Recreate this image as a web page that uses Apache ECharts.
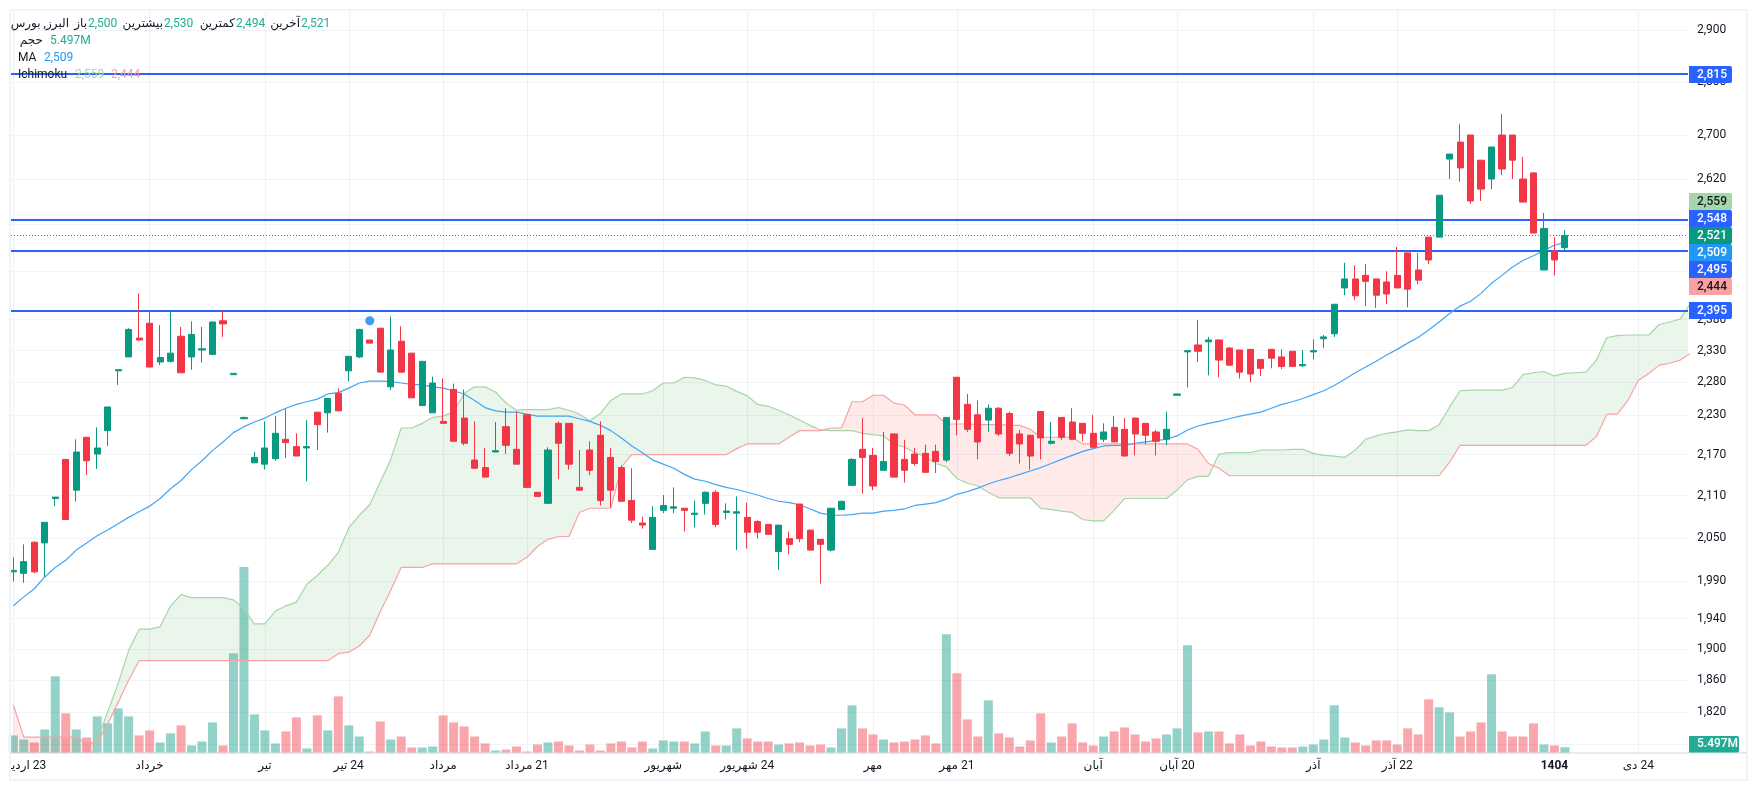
<!DOCTYPE html>
<html>
<head>
<meta charset="utf-8">
<title>Chart</title>
<style>
  html, body { margin: 0; padding: 0; background: #fff; }
  #chart { width: 1757px; height: 790px; }
</style>
<script src="https://cdn.jsdelivr.net/npm/echarts@6/dist/echarts.min.js"></script>
</head>
<body>
<div id="chart"></div>
<script>
// daily candles, one value per bar
const opens = [
  2003,2001,2044,2043,2106,2163,2118,2196,2171,2206,
  2298,2320,2350,2374,2312,2313,2353,2320,2331,2324,
  2378,2292,2224,2158,2156,2164,2193,2182,2180,2234,
  2233,2263,2298,2320,2347,2366,2273,2345,2326,2244,
  2233,2220,2269,2225,2162,2151,2174,2212,2178,2230,
  2115,2099,2217,2217,2122,2177,2199,2166,2151,2103,
  2071,2034,2089,2092,2092,2083,2099,2115,2086,2085,
  2079,2073,2069,2031,2049,2098,2061,2048,2033,2090,
  2125,2178,2169,2147,2201,2163,2171,2172,2175,2162,
  2288,2246,2230,2222,2240,2232,2201,2199,2235,2187,
  2226,2219,2217,2202,2193,2211,2208,2225,2217,2204,
  2193,2260,2328,2339,2344,2347,2334,2331,2332,2316,
  2332,2320,2329,2306,2328,2349,2357,2432,2447,2453,
  2447,2442,2453,2491,2462,2518,2518,2656,2687,2700,
  2654,2620,2700,2700,2620,2631,2462,2494,2500
];
const closes = [
  2005,2017,2003,2072,2108,2076,2174,2161,2180,2242,
  2300,2364,2347,2304,2319,2326,2295,2356,2333,2376,
  2373,2294,2226,2166,2180,2202,2188,2168,2182,2215,
  2255,2236,2321,2364,2342,2296,2331,2296,2256,2313,
  2279,2217,2190,2187,2150,2137,2176,2184,2156,2122,
  2109,2177,2187,2156,2118,2147,2103,2118,2102,2075,
  2068,2079,2096,2094,2089,2085,2115,2069,2088,2087,
  2058,2058,2055,2068,2041,2049,2033,2041,2092,2102,
  2163,2166,2124,2160,2137,2147,2157,2144,2160,2226,
  2223,2208,2189,2240,2201,2172,2186,2168,2195,2190,
  2196,2193,2202,2181,2204,2189,2168,2201,2199,2190,
  2208,2262,2330,2329,2347,2315,2307,2296,2293,2302,
  2318,2305,2305,2308,2330,2352,2405,2447,2419,2443,
  2420,2422,2432,2430,2445,2479,2591,2665,2640,2581,
  2602,2678,2638,2654,2579,2525,2533,2479,2521
];
const highs = [
  2023,2041,2045,2072,2108,2163,2193,2196,2211,2242,
  2300,2366,2423,2395,2371,2395,2368,2377,2368,2377,
  2395,2294,2227,2174,2220,2228,2239,2202,2222,2234,
  2255,2271,2321,2365,2347,2366,2385,2369,2326,2313,
  2289,2286,2278,2269,2220,2180,2219,2240,2235,2230,
  2115,2181,2220,2217,2177,2190,2220,2180,2154,2150,
  2080,2095,2111,2122,2092,2103,2116,2118,2099,2109,
  2100,2075,2069,2068,2059,2098,2061,2048,2092,2102,
  2165,2225,2180,2204,2201,2192,2180,2185,2185,2226,
  2288,2262,2252,2246,2242,2235,2207,2199,2235,2219,
  2226,2240,2217,2230,2217,2228,2225,2226,2217,2207,
  2235,2262,2331,2379,2352,2348,2336,2331,2332,2316,
  2332,2332,2329,2331,2348,2355,2405,2474,2470,2472,
  2447,2460,2501,2491,2491,2518,2591,2665,2720,2700,
  2654,2678,2739,2700,2660,2631,2560,2518,2530
];
const lows = [
  1990,1988,2001,1996,2095,2075,2102,2140,2149,2183,
  2276,2320,2346,2304,2307,2311,2295,2300,2311,2324,
  2352,2292,2223,2158,2148,2161,2165,2168,2131,2177,
  2203,2236,2282,2318,2342,2296,2268,2296,2256,2244,
  2233,2217,2190,2184,2150,2137,2174,2171,2156,2122,
  2109,2099,2134,2148,2118,2140,2096,2093,2102,2071,
  2063,2034,2085,2085,2059,2065,2083,2065,2076,2033,
  2035,2049,2055,2006,2027,2044,2033,1987,2031,2090,
  2125,2113,2118,2147,2137,2129,2154,2144,2143,2159,
  2199,2204,2163,2204,2198,2168,2157,2148,2163,2185,
  2192,2192,2190,2181,2189,2189,2168,2169,2185,2169,
  2184,2260,2272,2312,2291,2288,2307,2286,2280,2290,
  2302,2301,2304,2304,2316,2334,2352,2420,2412,2402,
  2399,2405,2432,2400,2438,2472,2518,2620,2615,2576,
  2581,2602,2627,2620,2579,2525,2462,2453,2494
];
// volume in millions
const volumes = [
  17.7,13.5,10.4,23.9,79.0,40.6,23.9,15.6,37.4,30.2,
  45.8,37.4,17.7,22.9,10.4,19.8,28.1,7.3,11.4,31.2,
  7.3,103,192.4,39.5,22.9,9.4,21.8,36.4,4.2,38.5,
  22.9,58.2,28.1,16.6,1.0,32.2,13.5,16.6,5.2,5.2,
  6.2,38.5,31.2,27.0,16.6,9.4,2.1,3.1,6.2,1.0,
  8.3,10.4,11.4,7.3,2.1,8.3,2.1,9.4,11.4,5.2,
  11.4,4.2,12.5,11.4,11.4,9.4,21.8,7.3,7.3,25.0,
  14.6,11.4,11.4,8.3,9.4,10.4,7.3,8.3,5.2,25.0,
  48.9,25.0,18.7,13.5,10.4,11.4,13.5,17.7,9.4,122.7,
  82.2,34.3,16.6,54.1,19.8,15.6,6.2,12.5,40.6,10.4,
  16.6,30.2,10.4,7.3,16.6,21.8,26.0,18.7,11.4,14.6,
  18.7,25.0,111.3,20.8,21.8,21.8,9.4,18.7,7.3,11.4,
  6.2,5.2,5.2,6.2,8.3,13.5,48.9,15.6,10.4,7.3,
  12.5,12.5,8.3,25.0,18.7,55.1,46.8,41.6,16.6,21.8,
  31.2,81.1,21.8,16.6,16.6,30.2,8.3,7.3,5.497
];
const maValues = [
  1957,1969,1980,1996,2009,2019,2033,2043,2053,2061,
  2070,2079,2087,2095,2106,2120,2132,2148,2161,2176,
  2189,2203,2212,2219,2225,2233,2240,2246,2250,2254,
  2262,2264,2271,2279,2282,2282,2281,2279,2277,2276,
  2273,2271,2267,2262,2252,2241,2236,2234,2234,2231,
  2228,2228,2228,2228,2224,2220,2214,2206,2195,2183,
  2173,2162,2156,2150,2141,2134,2131,2126,2122,2119,
  2115,2111,2106,2102,2100,2097,2091,2085,2082,2082,
  2083,2085,2085,2088,2089,2091,2096,2098,2100,2105,
  2112,2116,2121,2127,2132,2136,2141,2146,2151,2157,
  2163,2169,2175,2179,2183,2184,2184,2187,2189,2191,
  2193,2198,2207,2213,2217,2220,2224,2228,2231,2234,
  2240,2246,2250,2255,2261,2267,2275,2285,2295,2304,
  2313,2323,2332,2342,2351,2363,2376,2390,2402,2410,
  2423,2440,2453,2467,2478,2486,2495,2504,2509
];
// the cloud runs on past the last candle
const spanA = [
  1745,1745,1745,1745,1745,1745,1745,1754,1785,1820,
  1856,1898,1926,1926,1929,1957,1972,1968,1968,1968,
  1968,1965,1953,1933,1933,1950,1957,1962,1986,1998,
  2012,2030,2064,2082,2097,2130,2163,2210,2210,2217,
  2226,2228,2234,2263,2273,2273,2265,2248,2237,2238,
  2238,2238,2241,2237,2231,2221,2232,2252,2262,2262,
  2262,2267,2279,2279,2288,2287,2283,2276,2274,2266,
  2259,2246,2243,2237,2230,2222,2214,2207,2206,2206,
  2206,2202,2200,2198,2186,2181,2173,2167,2157,2152,
  2135,2128,2124,2115,2107,2107,2107,2107,2092,2090,
  2088,2086,2076,2074,2074,2089,2106,2106,2106,2106,
  2106,2118,2133,2138,2138,2171,2173,2173,2173,2177,
  2177,2177,2178,2178,2172,2169,2168,2166,2177,2193,
  2198,2202,2204,2207,2206,2206,2215,2242,2267,2268,
  2268,2268,2268,2272,2292,2295,2297,2290,2294,2295,
  2296,2315,2351,2354,2355,2355,2355,2372,2376,2381,2407
];
const spanB = [
  1829,1789,1789,1789,1789,1789,1789,1782,1782,1805,
  1832,1860,1885,1885,1885,1885,1885,1885,1885,1885,
  1885,1885,1885,1885,1885,1885,1885,1885,1885,1885,
  1885,1894,1896,1904,1918,1949,1978,2009,2009,2009,
  2014,2014,2014,2014,2014,2014,2014,2014,2014,2023,
  2038,2048,2052,2052,2086,2092,2092,2092,2152,2170,
  2170,2170,2170,2170,2170,2170,2170,2170,2170,2179,
  2186,2186,2186,2186,2196,2206,2206,2206,2210,2210,
  2250,2250,2260,2260,2248,2245,2230,2230,2230,2216,
  2216,2216,2215,2215,2215,2214,2214,2208,2196,2196,
  2196,2196,2186,2186,2186,2186,2186,2186,2186,2186,
  2186,2186,2186,2178,2157,2150,2139,2139,2139,2139,
  2139,2139,2139,2139,2139,2139,2139,2139,2139,2139,
  2139,2139,2139,2139,2139,2139,2139,2159,2184,2184,
  2184,2184,2184,2184,2184,2184,2184,2184,2184,2184,
  2184,2197,2231,2231,2252,2283,2294,2307,2310,2315,2326
];

const priceTicks = [2900,2800,2700,2620,2540,2460,2380,2330,2280,2230,2170,2110,2050,1990,1940,1900,1860,1820,1780];
const levels = [2815,2548,2495,2395];
const lastPrice = 2521;
const signalBar = 34;
const signalPrice = 2378;

const timeTicks = [0,13,24,32,41,49,62,70,82,90,103,111,124,132,147,155];
const timeLabels = ['23 اردیبهشت','خرداد','تیر','24 تیر','مرداد','21 مرداد','شهریور','24 شهریور','مهر','21 مهر','آبان','20 آبان','آذر','22 آذر','1404','24 دی'];

const UP = '#089981';
const DOWN = '#F23645';
const BLUE = '#2962ff';
const FONT = 'Roboto, "Noto Sans", "DejaVu Sans", sans-serif';

// prices are drawn on a log scale, so the y axis works in ln(price)
const lp = v => Math.log(v);

const candleData = opens.map((o, i) => [i, lp(o), lp(closes[i]), lp(lows[i]), lp(highs[i])]);
const volumeData = volumes.map((v, i) => ({
  value: [i, v],
  itemStyle: { color: closes[i] >= opens[i] ? 'rgba(8,153,129,0.44)' : 'rgba(242,54,69,0.44)' }
}));

// split the cloud into polygons where the two spans cross
function cloudRuns() {
  const runs = [];
  let run = { up: spanA[0] >= spanB[0], a: [[0, lp(spanA[0])]], b: [[0, lp(spanB[0])]] };
  for (let i = 1; i < spanA.length; i++) {
    const a0 = lp(spanA[i - 1]), b0 = lp(spanB[i - 1]);
    const a1 = lp(spanA[i]), b1 = lp(spanB[i]);
    const up = a1 >= b1;
    if (up !== run.up) {
      const t = (b0 - a0) / ((a1 - a0) - (b1 - b0));
      const cross = [i - 1 + t, a0 + (a1 - a0) * t];
      run.a.push(cross);
      runs.push(run);
      run = { up: up, a: [cross], b: [] };
    }
    run.a.push([i, a1]);
    run.b.push([i, b1]);
  }
  runs.push(run);
  return runs;
}
const runs = cloudRuns();

function renderCloud(params, api) {
  const children = runs.map(r => ({
    type: 'polygon',
    shape: { points: r.a.concat(r.b.slice().reverse()).map(p => api.coord(p)) },
    style: { fill: r.up ? 'rgba(67,160,71,0.11)' : 'rgba(244,67,54,0.11)' },
    silent: true
  }));
  return { type: 'group', children: children };
}

// text and tags ------------------------------------------------------
function txt(x, y, text, color, align, extra) {
  return {
    type: 'text', z: 100, silent: true,
    style: Object.assign({
      x: x, y: y, text: text, fill: color,
      align: align || 'left', verticalAlign: 'middle',
      font: '12px ' + FONT
    }, extra || {})
  };
}
function tag(top, text, bg, color, h, w) {
  const height = h || 17;
  return [
    { type: 'rect', z: 90, silent: true, shape: { x: 1689, y: top, width: w || 43, height: height, r: [0, 2, 2, 0] }, style: { fill: bg } },
    txt(1697, top + height / 2, text, color, 'left', { font: '500 12px ' + FONT, z: 91 })
  ];
}

const DARK = '#131722';
const VAL = '#22ab94';

const graphics = [
  { type: 'rect', z: 80, silent: true, shape: { x: 0, y: 754, width: 10, height: 25 }, style: { fill: '#fff' } },
  { type: 'rect', z: 81, silent: true, shape: { x: 10, y: 10, width: 1737, height: 770 }, style: { fill: 'none', stroke: '#f0f3fa', lineWidth: 2 } },
  { type: 'rect', z: 82, silent: true, shape: { x: 1688, y: 752, width: 59, height: 1.5 }, style: { fill: '#e0e3eb' } },

  txt(69, 24, 'البرز, بورس', DARK, 'right'),
  txt(87, 24, 'باز', DARK, 'right'),
  txt(88, 24, '2,500', VAL),
  txt(163, 24, 'بیشترین', DARK, 'right'),
  txt(164, 24, '2,530', VAL),
  txt(235, 24, 'کمترین', DARK, 'right'),
  txt(236, 24, '2,494', VAL),
  txt(300, 24, 'آخرین', DARK, 'right'),
  txt(301, 24, '2,521', VAL),
  txt(43, 41, 'حجم', DARK, 'right'),
  txt(50, 41, '5.497M', VAL),
  txt(18, 58, 'MA', DARK),
  txt(44, 58, '2,509', '#2196f3'),
  txt(18, 75, 'Ichimoku', DARK),
  txt(75, 75, '2,559', '#a5d6a7'),
  txt(111, 75, '2,444', '#faa1a4')
].concat(
  tag(66, '2,815', BLUE, '#fff'),
  tag(193, '2,559', '#a5d6a7', DARK),
  tag(210, '2,548', BLUE, '#fff'),
  tag(227, '2,521', UP, '#fff'),
  tag(244, '2,509', '#2196f3', '#fff'),
  tag(261, '2,495', BLUE, '#fff'),
  tag(278, '2,444', '#faa1a4', DARK),
  tag(302, '2,395', BLUE, '#fff'),
  tag(736, '5.497M', '#22ab94', '#fff', 16.5, 50)
);

var dom = document.getElementById('chart');
var myChart = echarts.init(dom, null, { renderer: 'canvas' });

var option = {
  animation: false,
  backgroundColor: '#fff',
  textStyle: { fontFamily: FONT },
  // outerBoundsMode none: the clipped first time label must not push the grid
  grid: { left: 11, right: 69, top: 11, bottom: 37.5, containLabel: false, outerBoundsMode: 'none' },
  xAxis: {
    type: 'value',
    min: -0.22,
    max: 159.74,
    axisLine: { onZero: false, lineStyle: { color: '#e0e3eb', width: 1.5 } },
    axisTick: { show: false, customValues: timeTicks },
    splitLine: { show: true, lineStyle: { color: '#f0f1f4', width: 1 } },
    axisLabel: {
      customValues: timeTicks,
      color: DARK,
      fontSize: 12,
      fontFamily: FONT,
      margin: 7,
      hideOverlap: false,
      showMinLabel: true,
      showMaxLabel: true,
      formatter: function (v) {
        const label = timeLabels[timeTicks.indexOf(v)];
        if (label === '1404') return '{b|1404}';
        return '\u200F' + label;
      },
      rich: { b: { fontWeight: 'bold', fontSize: 12, color: DARK, fontFamily: FONT } }
    }
  },
  yAxis: [
    {
      type: 'value',
      position: 'right',
      min: lp(1770.3),
      max: lp(2938.9),
      axisLine: { show: false },
      axisTick: { show: false, customValues: priceTicks.map(lp) },
      splitLine: { show: true, lineStyle: { color: '#f2f3f6', width: 1 } },
      axisLabel: {
        customValues: priceTicks.map(lp),
        color: '#131722',
        fontSize: 12,
        fontFamily: FONT,
        margin: 9,
        hideOverlap: false,
        formatter: v => Math.round(Math.exp(v)).toLocaleString('en-US')
      }
    },
    { type: 'value', min: 0, max: 769, show: false, splitLine: { show: false } }
  ],
  series: [
    {
      name: 'volume', type: 'bar', yAxisIndex: 1, z: 1,
      barWidth: 9, silent: true, data: volumeData
    },
    {
      name: 'cloud', type: 'custom', z: 2, clip: true, silent: true,
      renderItem: renderCloud,
      encode: { x: 0, y: 1 },
      data: [[0, lp(spanA[0])]]
    },
    {
      name: 'spanA', type: 'line', z: 3, showSymbol: false, silent: true,
      lineStyle: { color: '#a5d6a7', width: 1.2 },
      data: spanA.map((v, i) => [i, lp(v)])
    },
    {
      name: 'spanB', type: 'line', z: 3, showSymbol: false, silent: true,
      lineStyle: { color: '#faa1a4', width: 1.2 },
      data: spanB.map((v, i) => [i, lp(v)])
    },
    {
      name: 'levels', type: 'line', z: 4, silent: true, data: [],
      markLine: {
        silent: true, symbol: 'none', animation: false,
        precision: 6, // default of 2 decimals moves the lines in ln space
        label: { show: false },
        data: levels.map(v => ({ yAxis: lp(v), lineStyle: { color: BLUE, width: 2, type: 'solid' } }))
          .concat([{ yAxis: lp(lastPrice), lineStyle: { color: UP, width: 1, type: [1, 2] } }])
      }
    },
    {
      name: 'MA', type: 'line', z: 5, showSymbol: false, silent: true,
      lineStyle: { color: '#42a5f5', width: 1.2 },
      data: maValues.map((v, i) => [i, lp(v)])
    },
    {
      name: 'candles', type: 'candlestick', z: 6, silent: true,
      barWidth: 6.6,
      encode: { x: 0, y: [1, 2, 3, 4] },
      itemStyle: { color: UP, color0: DOWN, borderColor: UP, borderColor0: DOWN, borderWidth: 1 },
      data: candleData
    },
    {
      name: 'signal', type: 'scatter', z: 7, silent: true, symbolSize: 9,
      itemStyle: { color: '#0a84f0' },
      data: [[signalBar, lp(signalPrice)]]
    }
  ],
  graphic: graphics
};

if (option && typeof option === 'object') {
  myChart.setOption(option);
}
window.addEventListener('resize', myChart.resize);
</script>
</body>
</html>
